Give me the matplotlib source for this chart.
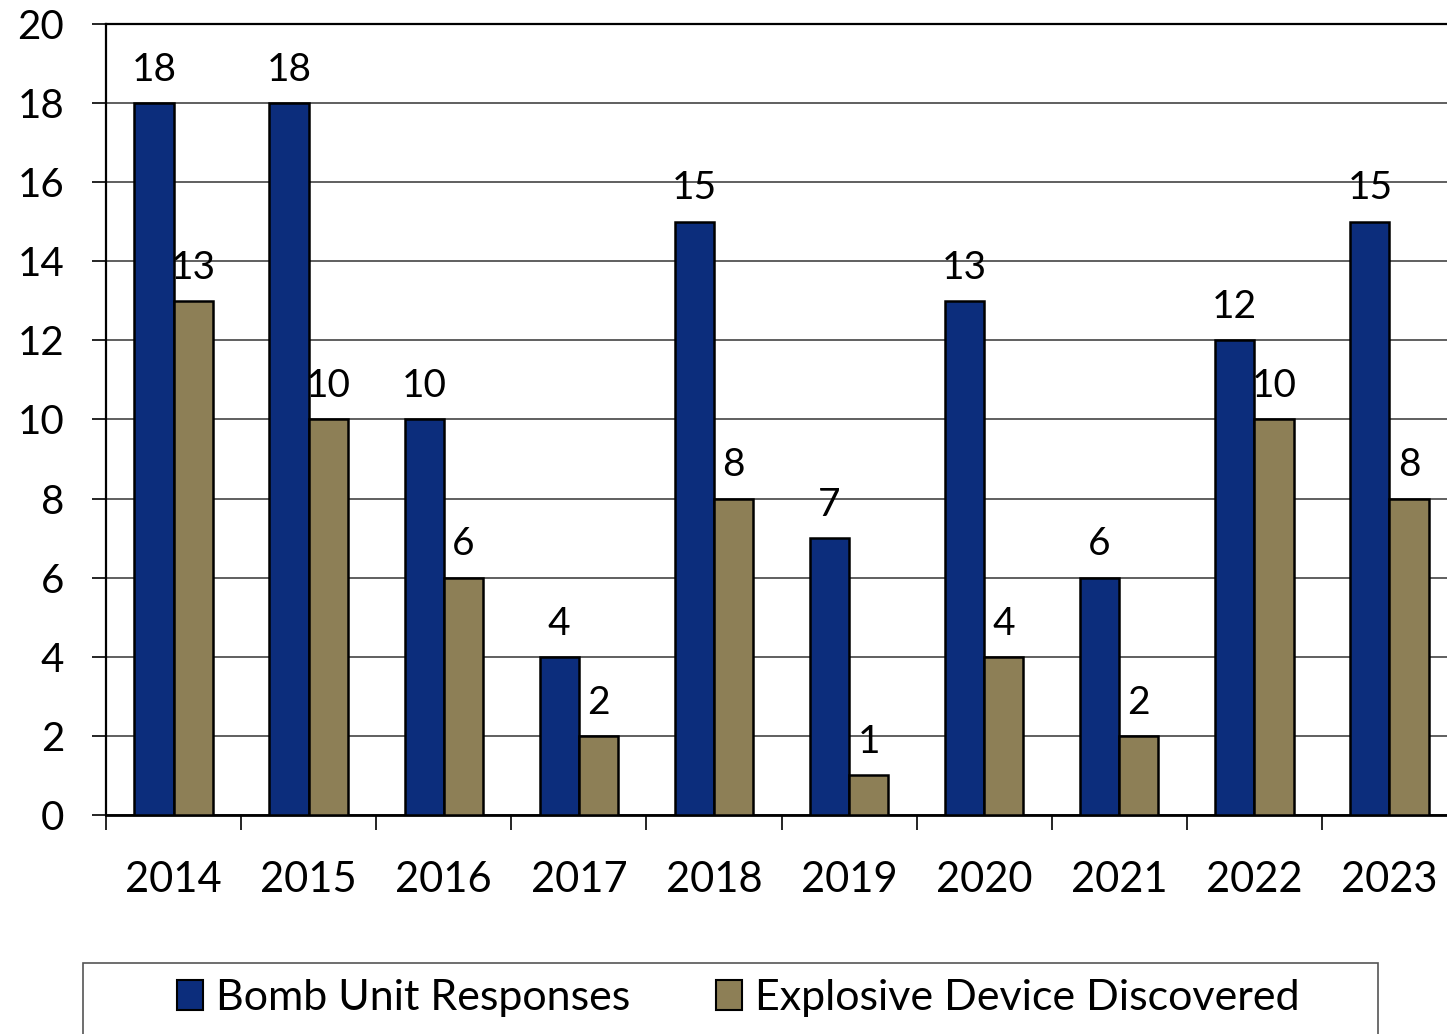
import matplotlib
matplotlib.use("Agg")
import matplotlib.pyplot as plt
from matplotlib.patches import Rectangle
import numpy as np

years = ["2014", "2015", "2016", "2017", "2018", "2019", "2020", "2021", "2022", "2023"]
bomb_unit = [18, 18, 10, 4, 15, 7, 13, 6, 12, 15]
explosive = [13, 10, 6, 2, 8, 1, 4, 2, 10, 8]
series_names = ["Bomb Unit Responses", "Explosive Device Discovered"]
yticks = [0, 2, 4, 6, 8, 10, 12, 14, 16, 18, 20]

plt.rcParams['font.family'] = ['Lato', 'DejaVu Sans']

W, H = 1447, 1034
fig = plt.figure(figsize=(W / 100, H / 100), dpi=100)
left, right, top, bottom = 106, 1457, 24, 815
ax = fig.add_axes([left / W, 1 - bottom / H, (right - left) / W, (bottom - top) / H])

blue = "#0c2d7c"
tan = "#8d7f56"
x = np.arange(len(years))
bw = 0.29
b1 = ax.bar(x - bw / 2, bomb_unit, bw, color=blue, edgecolor="black", linewidth=1.8,
            label=series_names[0], zorder=3)
b2 = ax.bar(x + bw / 2, explosive, bw, color=tan, edgecolor="black", linewidth=1.8,
            label=series_names[1], zorder=3)
ax.bar_label(b1, padding=11, fontsize=28, color="black")
ax.bar_label(b2, padding=11, fontsize=28, color="black")

ax.set_xlim(-0.5, len(years) - 0.5)
ax.set_ylim(0, 20)
ax.set_yticks(yticks)
ax.set_yticklabels([str(v) for v in yticks])
ax.tick_params(axis="y", length=10, width=1.2, pad=20, labelsize=29, direction="out")
ax.set_xticks(x)
ax.set_xticklabels(years)
ax.tick_params(axis="x", which="major", length=0, pad=33, labelsize=30)
ax.set_xticks(np.arange(len(years) + 1) - 0.5, minor=True)
ax.tick_params(axis="x", which="minor", length=11, width=1.2, direction="out")

ax.grid(axis="y", color="#444444", linewidth=1.2, zorder=0)
ax.set_axisbelow(True)
ax.spines["right"].set_visible(False)
ax.spines["top"].set_linewidth(1.6)
ax.spines["left"].set_linewidth(1.6)
ax.spines["bottom"].set_linewidth(2.0)

# legend frame (cut off at the bottom edge, as in the reference)
frame = Rectangle((83 / W, 1 - 1060 / H), (1378 - 83) / W, (1060 - 963) / H,
                  transform=fig.transFigure, facecolor="white", edgecolor="#555555",
                  linewidth=1.2, zorder=1)
fig.patches.append(frame)

leg = fig.legend(loc="center", bbox_to_anchor=(738 / W, 1 - 998 / H), ncol=2,
                 fontsize=31, frameon=False,
                 handlelength=0.6, handleheight=0.72, handletextpad=0.3,
                 columnspacing=2.0, borderpad=0.2)
leg.set_zorder(5)
for h in leg.legend_handles:
    h.set_linewidth(1.5)

fig.savefig("out.png", dpi=100)
